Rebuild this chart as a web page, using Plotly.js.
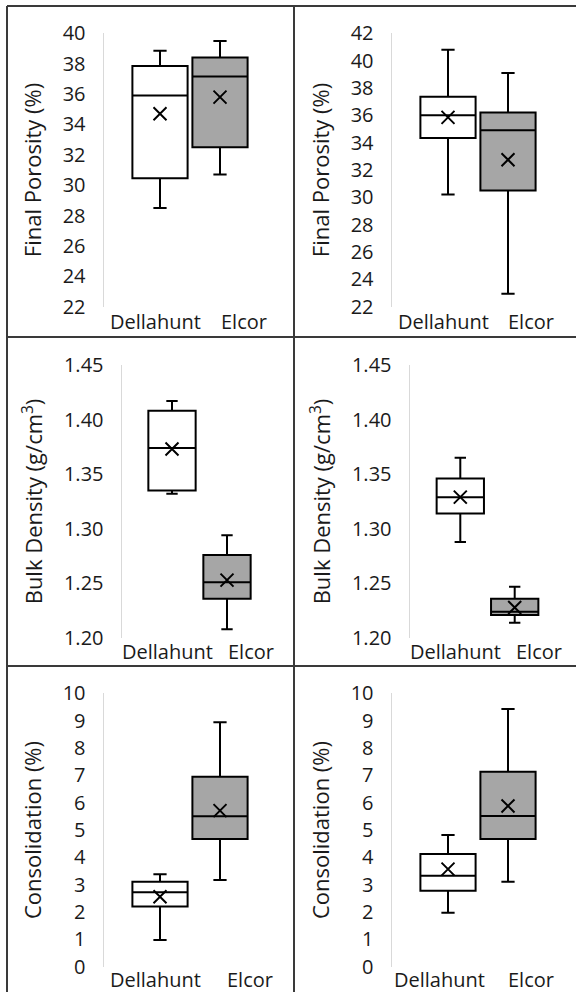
<!DOCTYPE html>
<html><head><meta charset="utf-8">
<script src="https://cdn.plot.ly/plotly-3.0.1.min.js"></script>
<style>html,body{margin:0;padding:0;background:#fff}#chart{width:576px;height:992px}</style>
</head><body><div id="chart"></div>
<script>
// Data
const categories = ['Dellahunt', 'Elcor'];
// each row: [lower whisker, Q1, median, Q3, upper whisker, mean]
const porosityLeft  = [[28.5, 30.45, 35.9, 37.85, 38.85, 34.7], [30.7, 32.5, 37.15, 38.4, 39.5, 35.8]];
const porosityRight = [[30.2, 34.35, 36.0, 37.35, 40.8, 35.85], [22.95, 30.5, 34.9, 36.2, 39.1, 32.75]];
const densityLeft   = [[1.332, 1.335, 1.374, 1.408, 1.417, 1.373], [1.208, 1.236, 1.251, 1.276, 1.294, 1.253]];
const densityRight  = [[1.288, 1.314, 1.329, 1.346, 1.365, 1.329], [1.214, 1.221, 1.224, 1.236, 1.247, 1.228]];
const consolLeft    = [[0.98, 2.2, 2.72, 3.11, 3.38, 2.56], [3.17, 4.67, 5.5, 6.95, 8.94, 5.71]];
const consolRight   = [[1.97, 2.78, 3.33, 4.12, 4.82, 3.57], [3.11, 4.67, 5.51, 7.13, 9.43, 5.88]];
const yTitles = ['Final Porosity (%)', 'Final Porosity (%)', 'Bulk Density (g/cm<sup>3</sup>)', 'Bulk Density (g/cm<sup>3</sup>)', 'Consolidation (%)', 'Consolidation (%)'];
const yRanges = [[22, 40], [22, 42], [1.20, 1.45], [1.20, 1.45], [0, 10], [0, 10]];
const yDticks = [2, 2, 0.05, 0.05, 1, 1];

const allStats = [porosityLeft, porosityRight, densityLeft, densityRight, consolLeft, consolRight];
const fillColors = ['#ffffff', '#a6a6a6'];

// layout geometry (pixels)
const W = 576, H = 992;
const geo = [
  {x0: 104, x1: 280, y0: 33.3, y1: 306.7, c0: 160, step: 60, bw: 0.92, lab: [155.5, 244], ly: 321},
  {x0: 392, x1: 568, y0: 33.3, y1: 306.7, c0: 448, step: 60, bw: 0.92, lab: [443, 530.5], ly: 321},
  {x0: 122, x1: 288, y0: 365, y1: 638, c0: 172, step: 55, bw: 0.86, lab: [167.5, 250.7], ly: 651},
  {x0: 410, x1: 570, y0: 365, y1: 638, c0: 460.3, step: 54.4, bw: 0.87, lab: [455.8, 539], ly: 651},
  {x0: 104, x1: 280, y0: 693.3, y1: 966.7, c0: 160, step: 60, bw: 0.92, lab: [155.5, 249.5], ly: 979},
  {x0: 392, x1: 568, y0: 693.3, y1: 966.7, c0: 448, step: 60, bw: 0.92, lab: [439.7, 530.5], ly: 979}
];
const FONT = 'Open Sans, Liberation Sans, sans-serif';
const TXT = '#1a1a1a';

const traces = [];
const layout = {
  width: W, height: H, margin: {l: 0, r: 0, t: 0, b: 0},
  paper_bgcolor: '#ffffff', plot_bgcolor: '#ffffff',
  showlegend: false, boxmode: 'overlay',
  font: {family: FONT, size: 20, color: TXT},
  annotations: [], shapes: []
};

allStats.forEach((stats, p) => {
  const g = geo[p];
  const sfx = p === 0 ? '' : String(p + 1);
  const xa = 'x' + sfx, ya = 'y' + sfx;
  stats.forEach((s, i) => {
    traces.push({
      type: 'box', xaxis: xa, yaxis: ya,
      x: [categories[i]],
      lowerfence: [s[0]], q1: [s[1]], median: [s[2]], q3: [s[3]], upperfence: [s[4]],
      width: g.bw, whiskerwidth: 0.24,
      fillcolor: fillColors[i],
      line: {color: '#000000', width: 2},
      boxpoints: false, hoverinfo: 'skip'
    });
  });
  traces.push({
    type: 'scatter', mode: 'markers', xaxis: xa, yaxis: ya,
    x: categories, y: stats.map(s => s[5]),
    marker: {symbol: 'x-thin-open', size: 13, color: '#000000', line: {color: '#000000', width: 2}},
    hoverinfo: 'skip'
  });
  layout['xaxis' + sfx] = {
    type: 'category', categoryorder: 'array', categoryarray: categories,
    domain: [g.x0 / W, g.x1 / W],
    range: [(g.x0 - g.c0) / g.step, (g.x1 - g.c0) / g.step],
    showticklabels: false, showgrid: false, zeroline: false, showline: false, ticks: '',
    anchor: ya, fixedrange: true
  };
  layout['yaxis' + sfx] = {
    domain: [1 - g.y1 / H, 1 - g.y0 / H],
    range: yRanges[p], dtick: yDticks[p], tick0: yRanges[p][0],
    tickformat: yDticks[p] < 1 ? '.2f' : 'd',
    showgrid: false, zeroline: false,
    showline: true, linecolor: '#d9d9d9', linewidth: 1.5,
    ticks: '', ticklabelstandoff: 13,
    tickfont: {family: FONT, size: 20, color: TXT},
    title: {text: yTitles[p], font: {family: FONT, size: 22, color: TXT}, standoff: 15},
    anchor: xa, fixedrange: true
  };
  categories.forEach((c, i) => {
    layout.annotations.push({
      text: c, xref: 'paper', yref: 'paper',
      x: g.lab[i] / W, y: 1 - g.ly / H, xanchor: 'center', yanchor: 'middle',
      showarrow: false, font: {family: FONT, size: 20, color: TXT}
    });
  });
});

// panel frame lines
const frame = [
  [7, 6, 576, 6], [7, 6, 7, 992], [294, 6, 294, 992], [7, 337, 576, 337], [7, 666, 576, 666]
];
frame.forEach(f => layout.shapes.push({
  type: 'line', xref: 'paper', yref: 'paper',
  x0: f[0] / W, y0: 1 - f[1] / H, x1: f[2] / W, y1: 1 - f[3] / H,
  line: {color: '#3a3a3a', width: 2}
}));

Plotly.newPlot('chart', traces, layout, {staticPlot: true, displayModeBar: false});
</script>
</body></html>
